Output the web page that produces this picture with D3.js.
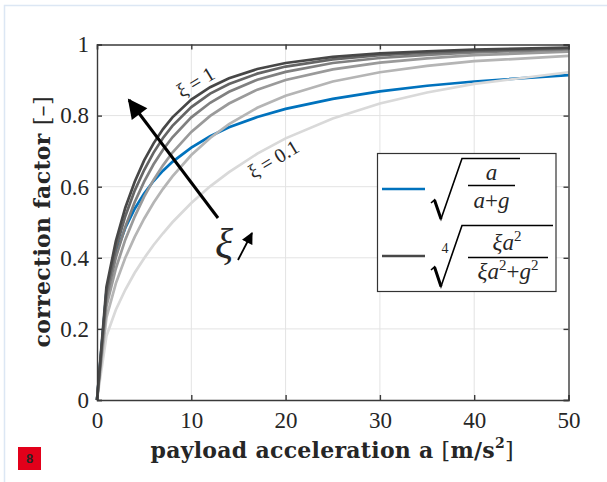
<!DOCTYPE html>
<html>
<head>
<meta charset="utf-8">
<script src="https://cdn.jsdelivr.net/npm/d3@7"></script>
<style>
  body { margin: 0; background: #fff; }
  text { font-family: "Liberation Serif", "DejaVu Serif", serif; fill: #262626; }
</style>
</head>
<body>
<div id="chart"></div>
<script>
// Data: acceleration samples and correction factors
var accel = [0, 1, 2, 3, 4, 5, 6, 7, 8, 10, 12, 14, 17, 20, 25, 30, 35, 40, 50];
var sqrtFactor = [0, 0.304, 0.412, 0.484, 0.538, 0.581, 0.616, 0.645, 0.670, 0.710, 0.742, 0.767, 0.796, 0.819, 0.847, 0.868, 0.884, 0.896, 0.914];
var xiValues = [0.1, 0.28, 0.46, 0.64, 0.82, 1];
var xi010 = [0, 0.180, 0.254, 0.310, 0.358, 0.399, 0.436, 0.469, 0.500, 0.554, 0.601, 0.641, 0.693, 0.736, 0.792, 0.834, 0.865, 0.889, 0.922];
var xi028 = [0, 0.232, 0.328, 0.400, 0.459, 0.510, 0.555, 0.594, 0.629, 0.689, 0.737, 0.776, 0.822, 0.856, 0.896, 0.922, 0.940, 0.953, 0.968];
var xi046 = [0, 0.263, 0.370, 0.451, 0.516, 0.572, 0.619, 0.660, 0.696, 0.754, 0.799, 0.834, 0.873, 0.900, 0.930, 0.949, 0.961, 0.970, 0.980];
var xi064 = [0, 0.285, 0.401, 0.487, 0.557, 0.614, 0.663, 0.704, 0.739, 0.795, 0.836, 0.867, 0.901, 0.923, 0.948, 0.962, 0.971, 0.978, 0.986];
var xi082 = [0, 0.303, 0.426, 0.517, 0.589, 0.647, 0.696, 0.737, 0.771, 0.824, 0.862, 0.889, 0.918, 0.938, 0.958, 0.970, 0.977, 0.982, 0.989];
var xi100 = [0, 0.318, 0.447, 0.541, 0.614, 0.674, 0.722, 0.762, 0.795, 0.845, 0.880, 0.905, 0.931, 0.948, 0.965, 0.975, 0.981, 0.986, 0.991];
var xiSeries = [xi010, xi028, xi046, xi064, xi082, xi100];
var xiColors = ["#d9d9d9", "#b5b5b5", "#9a9a9a", "#808080", "#656565", "#474747"];
var xTicks = [0, 10, 20, 30, 40, 50];
var yTicks = [0, 0.2, 0.4, 0.6, 0.8, 1];

var svgWidth = 607;
var svgHeight = 482;
var margin = { top: 44.5, right: 38.5, bottom: 82, left: 97 };
var width = svgWidth - margin.left - margin.right;
var height = svgHeight - margin.top - margin.bottom;

var svg = d3.select("#chart")
  .append("svg")
  .attr("width", svgWidth)
  .attr("height", svgHeight);

// light page frame
svg.append("rect")
  .attr("x", 4.5).attr("y", 5.5)
  .attr("width", 640).attr("height", 520)
  .attr("fill", "none")
  .attr("stroke", "#dce7f4")
  .attr("stroke-width", 1.5);

var plot = svg.append("g")
  .attr("transform", `translate(${margin.left}, ${margin.top})`);

var x = d3.scaleLinear().domain([0, 50]).range([0, width]);
var y = d3.scaleLinear().domain([0, 1]).range([height, 0]);

// grid
plot.append("g")
  .selectAll("line")
  .data(xTicks.slice(1, -1))
  .enter().append("line")
  .attr("x1", d => x(d)).attr("x2", d => x(d))
  .attr("y1", 0).attr("y2", height)
  .attr("stroke", "#e3e3e3").attr("stroke-width", 1);

plot.append("g")
  .selectAll("line")
  .data(yTicks.slice(1, -1))
  .enter().append("line")
  .attr("x1", 0).attr("x2", width)
  .attr("y1", d => y(d)).attr("y2", d => y(d))
  .attr("stroke", "#e3e3e3").attr("stroke-width", 1);

// curves
var line = d3.line()
  .x((d, i) => x(accel[i]))
  .y(d => y(d));

plot.append("path")
  .datum(sqrtFactor)
  .attr("d", line)
  .attr("fill", "none")
  .attr("stroke", "#0072bd")
  .attr("stroke-width", 2.7);

plot.selectAll("path.xi")
  .data(xiSeries)
  .enter().append("path")
  .attr("class", "xi")
  .attr("d", line)
  .attr("fill", "none")
  .attr("stroke", (d, i) => xiColors[i])
  .attr("stroke-width", 2.7);

// axes (box with inward ticks)
var bottomAxis = d3.axisBottom(x).tickValues(xTicks).tickSize(-5).tickPadding(12).tickFormat(d3.format("d"));
var leftAxis = d3.axisLeft(y).tickValues(yTicks).tickSize(-5).tickPadding(8).tickFormat(d => d === 0 || d === 1 ? d : d3.format(".1f")(d));
var topAxis = d3.axisTop(x).tickValues(xTicks).tickSize(-5).tickFormat("");
var rightAxis = d3.axisRight(y).tickValues(yTicks).tickSize(-5).tickFormat("");

plot.append("g").attr("transform", `translate(0, ${height})`).call(bottomAxis);
plot.append("g").call(leftAxis);
plot.append("g").call(topAxis);
plot.append("g").attr("transform", `translate(${width}, 0)`).call(rightAxis);

plot.selectAll(".domain, .tick line")
  .attr("stroke", "#3a3a3a")
  .attr("stroke-width", 1.4);
plot.selectAll(".tick text")
  .style("font-family", "'Liberation Serif', serif")
  .style("font-size", "23px")
  .attr("fill", "#262626");

// axis titles
var xTitle = svg.append("text")
  .attr("x", 332)
  .attr("y", 458)
  .attr("text-anchor", "middle")
  .attr("textLength", 363)
  .attr("lengthAdjust", "spacing")
  .style("font-family", "'DejaVu Serif', serif")
  .style("font-size", "22px")
  .style("font-weight", "bold");
xTitle.append("tspan").text("payload acceleration a ");
xTitle.append("tspan").style("font-weight", "normal").text("[");
xTitle.append("tspan").text("m/s");
xTitle.append("tspan").attr("dy", -10).style("font-size", "14px").text("2");
xTitle.append("tspan").attr("dy", 10).style("font-weight", "normal").text("]");

var yTitle = svg.append("text")
  .attr("transform", "translate(50, 222) rotate(-90)")
  .attr("text-anchor", "middle")
  .attr("textLength", 251)
  .attr("lengthAdjust", "spacing")
  .style("font-family", "'DejaVu Serif', serif")
  .style("font-size", "22px")
  .style("font-weight", "bold");
yTitle.append("tspan").text("correction factor ");
yTitle.append("tspan").style("font-weight", "normal").text("[–]");

// annotations
svg.append("text")
  .attr("transform", "translate(199, 88) rotate(-31)")
  .attr("text-anchor", "middle")
  .style("font-size", "20px")
  .text("ξ = 1");

svg.append("text")
  .attr("transform", "translate(277, 165) rotate(-31)")
  .attr("text-anchor", "middle")
  .style("font-size", "20px")
  .text("ξ = 0.1");

var defs = svg.append("defs");
defs.append("marker")
  .attr("id", "head")
  .attr("viewBox", "0 0 10 10")
  .attr("refX", 9).attr("refY", 5)
  .attr("markerWidth", 7).attr("markerHeight", 6.5)
  .attr("markerUnits", "strokeWidth")
  .attr("orient", "auto")
  .append("path")
  .attr("d", "M0,0 L10,5 L0,10 z")
  .attr("fill", "#000");

svg.append("line")
  .attr("x1", 218).attr("y1", 218)
  .attr("x2", 129).attr("y2", 100)
  .attr("stroke", "#000").attr("stroke-width", 3)
  .attr("marker-end", "url(#head)");

svg.append("text")
  .attr("x", 224).attr("y", 258)
  .attr("text-anchor", "middle")
  .style("font-size", "42px")
  .style("font-style", "italic")
  .attr("fill", "#000")
  .text("ξ");

svg.append("line")
  .attr("x1", 238).attr("y1", 260)
  .attr("x2", 252).attr("y2", 233)
  .attr("stroke", "#000").attr("stroke-width", 1.8)
  .attr("marker-end", "url(#head)");

// legend
var legend = svg.append("g");
legend.append("rect")
  .attr("x", 377.5).attr("y", 153.5)
  .attr("width", 178.5).attr("height", 138)
  .attr("fill", "#fff")
  .attr("stroke", "#333").attr("stroke-width", 1.2);

legend.append("line")
  .attr("x1", 382).attr("x2", 425).attr("y1", 189).attr("y2", 189)
  .attr("stroke", "#0072bd").attr("stroke-width", 2.7);
legend.append("line")
  .attr("x1", 382).attr("x2", 425).attr("y1", 256).attr("y2", 256)
  .attr("stroke", "#474747").attr("stroke-width", 2.7);

// square root of a/(a+g)
legend.append("path")
  .attr("d", "M431,203 L434.5,200 L441,219 L462,158.5 L520,158.5")
  .attr("fill", "none").attr("stroke", "#000").attr("stroke-width", 1.6);
legend.append("path")
  .attr("d", "M434.5,200 L441,219")
  .attr("stroke", "#000").attr("stroke-width", 3);
legend.append("line")
  .attr("x1", 468).attr("x2", 515).attr("y1", 185.5).attr("y2", 185.5)
  .attr("stroke", "#000").attr("stroke-width", 1.4);
legend.append("text")
  .attr("x", 491.5).attr("y", 180)
  .attr("text-anchor", "middle")
  .style("font-size", "23px").style("font-style", "italic")
  .attr("fill", "#000")
  .text("a");
var den1 = legend.append("text")
  .attr("x", 491.5).attr("y", 208)
  .attr("text-anchor", "middle")
  .style("font-size", "23px")
  .attr("fill", "#000");
den1.append("tspan").style("font-style", "italic").text("a");
den1.append("tspan").text("+");
den1.append("tspan").style("font-style", "italic").text("g");

// fourth root of xi a^2 / (xi a^2 + g^2)
legend.append("text")
  .attr("x", 445).attr("y", 253)
  .attr("text-anchor", "middle")
  .style("font-size", "14px")
  .attr("fill", "#000")
  .text("4");
legend.append("path")
  .attr("d", "M431,270 L434.5,267 L441,286.5 L462,225.5 L553,225.5")
  .attr("fill", "none").attr("stroke", "#000").attr("stroke-width", 1.6);
legend.append("path")
  .attr("d", "M434.5,267 L441,286.5")
  .attr("stroke", "#000").attr("stroke-width", 3);
legend.append("line")
  .attr("x1", 468).attr("x2", 548).attr("y1", 257.5).attr("y2", 257.5)
  .attr("stroke", "#000").attr("stroke-width", 1.4);
var num2 = legend.append("text")
  .attr("x", 507).attr("y", 250)
  .attr("text-anchor", "middle")
  .style("font-size", "23px").style("font-style", "italic")
  .attr("fill", "#000");
num2.append("tspan").text("ξa");
num2.append("tspan").attr("dy", -9).style("font-size", "15px").style("font-style", "normal").text("2");
var den2 = legend.append("text")
  .attr("x", 508).attr("y", 279)
  .attr("text-anchor", "middle")
  .style("font-size", "23px")
  .attr("fill", "#000");
den2.append("tspan").style("font-style", "italic").text("ξa");
den2.append("tspan").attr("dy", -9).style("font-size", "15px").text("2");
den2.append("tspan").attr("dy", 9).text("+");
den2.append("tspan").style("font-style", "italic").text("g");
den2.append("tspan").attr("dy", -9).style("font-size", "15px").text("2");

// red page badge
svg.append("rect")
  .attr("x", 18).attr("y", 447)
  .attr("width", 23).attr("height", 23)
  .attr("fill", "#e2001a");
svg.append("text")
  .attr("x", 29.5).attr("y", 463)
  .attr("text-anchor", "middle")
  .style("font-family", "'Liberation Sans', Arial, sans-serif")
  .style("font-size", "13px")
  .style("font-weight", "bold")
  .attr("fill", "#fff")
  .text("8");
</script>
</body>
</html>
